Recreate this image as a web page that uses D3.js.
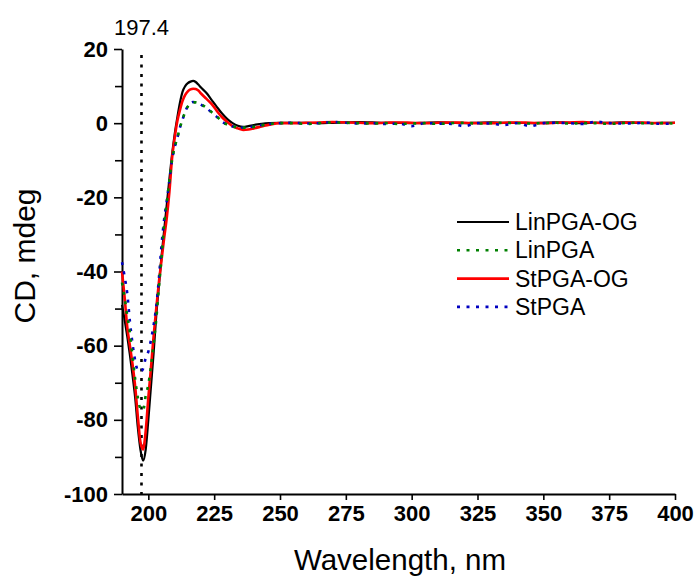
<!DOCTYPE html>
<html>
<head>
<meta charset="utf-8">
<script src="https://cdn.jsdelivr.net/npm/d3@7"></script>
<style>
  body { margin: 0; background: #fff; }
  svg { display: block; font-family: Arial, "Liberation Sans", sans-serif; }
</style>
</head>
<body>
<svg id="chart" width="694" height="577"></svg>
<script>
// wavelengths (nm), dense around the bands, sparse on the flat tail
const wavelengths = [190,191,192,193,194,195,196,197,198,199,200,201,202,203,204,205,206,207,208,209,210,
  211,212,213,214,215,216,217,218,219,220,222,224,226,228,230,232,234,236,238,240,243,246,250,
  255,260,265,270,275,280,285,290,295,300,305,310,315,320,325,330,335,340,345,350,355,360,365,370,375,380,385,390,395,400];

const linPgaOg = [-49,-53,-57.5,-62.5,-68,-74,-82,-88,-91,-88,-80,-71,-62,-52,-44,-36,-29,-22,-15,-8.5,-3,
  1.5,5.5,8.5,10,10.8,11.2,11.4,11.1,10.4,9.6,8.2,6.3,4.4,2.6,1.1,0,-0.7,-1,-0.8,-0.5,-0.2,0,0.1,
  0.1,0.1,0.0,0.1,0.2,0.3,0.2,0.1,0.1,0.0,0.1,0.2,0.1,0.0,0.1,0.2,0.1,0.1,0.0,0.1,0.2,0.1,0.0,0.1,0.1,0.2,0.1,0.0,0.1,0.1];

const linPga = [-43,-47,-52,-56.6,-63,-69,-74,-77,-77.5,-73.5,-70.5,-65.5,-59.5,-53,-44.5,-36.5,-27.5,-21.5,-15.5,-10,-6.5,
  -4,-1.2,1,3.1,4.5,5.3,5.6,5.6,5.4,5.1,4.2,3,1.8,0.4,-0.4,-0.9,-1.1,-1.2,-1.2,-1,-0.6,-0.2,0,
  0.0,-0.2,0.0,0.2,0.1,0.0,-0.1,0.0,-0.2,-0.1,0.0,-0.2,0.0,0.1,-0.1,0.0,0.1,0.0,-0.1,0.0,0.1,-0.1,0.0,0.0,-0.2,0.0,0.1,-0.1,0.0,-0.1];

const stPgaOg = [-40,-47,-55,-60,-65,-71,-79,-86,-88,-83,-74,-66,-57.5,-50,-43,-37,-31,-25.5,-18.5,-9.5,-4,
  0.5,3.5,6,7.6,8.6,9.1,9.3,9.2,8.8,8,6.6,5.2,3.3,1.6,0.3,-0.8,-1.4,-1.8,-1.7,-1.4,-0.9,-0.4,0,
  0.0,0.1,0.2,0.3,0.2,0.1,0.0,0.1,0.2,0.1,0.0,0.1,0.2,0.1,0.0,0.0,0.1,0.2,0.1,0.0,0.1,0.2,0.3,0.1,0.0,0.1,0.2,0.1,0.0,0.1];

const stPga = [-37.5,-41.4,-46,-53.5,-59.5,-64,-66.7,-67,-66.2,-63.3,-61.6,-58.5,-54.5,-49.5,-42,-33,-26,-21,-15.5,-10,-6.5,
  -4,-1.2,1,3.1,4.6,5.4,5.7,5.6,5.4,5,4.1,2.9,1.7,0.4,-0.4,-0.9,-1.1,-1.2,-1.1,-0.9,-0.5,-0.2,0,
  0.1,-0.1,0.0,0.3,0.1,-0.1,0.0,-0.2,-0.1,-0.8,0.0,-0.1,-0.2,-0.8,0.0,-0.1,-0.5,0.0,-0.8,0.0,0.1,0.0,-0.2,0.4,0.0,-0.1,0.0,0.1,-0.2,0.0];

const xTicks = [200,225,250,275,300,325,350,375,400];
const yTicks = [-100,-80,-60,-40,-20,0,20];
const yMinorTicks = [-90,-70,-50,-30,-10,10];
const markerWl = 197.4;

// draw order: black, red, blue, green (green dots sit on top)
const series = [
  { name: "LinPGA-OG", values: linPgaOg, color: "#000000", width: 2.2, dash: null },
  { name: "StPGA-OG", values: stPgaOg, color: "#ff0000", width: 2.6, dash: null },
  { name: "StPGA", values: stPga, color: "#0000c0", width: 2.6, dash: "3,6.5" },
  { name: "LinPGA", values: linPga, color: "#008000", width: 2.6, dash: "3,6.5" }
];
const legendOrder = ["LinPGA-OG", "LinPGA", "StPGA-OG", "StPGA"];

const svg = d3.select('#chart');

const x = d3.scaleLinear().domain([190, 400]).range([122, 675]);
const y = d3.scaleLinear().domain([-100, 20]).range([494, 49]);

// minor y ticks
svg.append('g')
    .attr('transform', 'translate(122,0)')
    .call(d3.axisLeft(y).tickValues(yMinorTicks).tickSize(7).tickFormat(''))
    .call(g => g.select('.domain').remove())
    .call(g => g.selectAll('line').attr('stroke', '#000').attr('stroke-width', 1.6));

const yAxis = svg.append('g')
    .attr('transform', 'translate(122,0)')
    .call(d3.axisLeft(y).tickValues(yTicks).tickSize(8).tickSizeOuter(0).tickPadding(6)
        .tickFormat(d => String(d)));

const xAxis = svg.append('g')
    .attr('transform', 'translate(0,494)')
    .call(d3.axisBottom(x).tickValues(xTicks).tickSize(6).tickSizeOuter(0).tickPadding(5)
        .tickFormat(d => String(d)));

[xAxis, yAxis].forEach(g => {
    g.select('.domain').attr('stroke', '#000').attr('stroke-width', 2);
    g.selectAll('line').attr('stroke', '#000').attr('stroke-width', 1.6);
    g.selectAll('text')
        .attr('fill', '#000')
        .style('font-family', 'Arial, "Liberation Sans", sans-serif')
        .style('font-size', '22px')
        .style('font-weight', 'bold');
});

// 197.4 marker line
svg.append('line')
    .attr('x1', x(markerWl)).attr('x2', x(markerWl))
    .attr('y1', y(18.4)).attr('y2', y(-100))
    .attr('stroke', '#000')
    .attr('stroke-width', 2.6)
    .attr('stroke-dasharray', '3,6.5');

svg.append('text')
    .attr('x', x(markerWl))
    .attr('y', 35)
    .attr('text-anchor', 'middle')
    .style('font-size', '22px')
    .text(markerWl.toFixed(1));

const line = d3.line()
    .x((d, i) => x(wavelengths[i]))
    .y(d => y(d))
    .curve(d3.curveMonotoneX);

series.forEach(s => {
    svg.append('path')
        .datum(s.values)
        .attr('fill', 'none')
        .attr('stroke', s.color)
        .attr('stroke-width', s.width)
        .attr('stroke-dasharray', s.dash)
        .attr('d', line);
});

// legend
const legend = svg.append('g').attr('transform', 'translate(457,222)');
legendOrder.forEach((name, i) => {
    const s = series.find(d => d.name === name);
    const row = legend.append('g').attr('transform', `translate(0,${i * 28.3})`);
    row.append('line')
        .attr('x1', 0).attr('x2', 52)
        .attr('stroke', s.color)
        .attr('stroke-width', s.width)
        .attr('stroke-dasharray', s.dash);
    row.append('text')
        .attr('x', 58)
        .attr('y', 8)
        .style('font-size', '23px')
        .text(name);
});

// axis titles
svg.append('text')
    .attr('x', 400)
    .attr('y', 570)
    .attr('text-anchor', 'middle')
    .style('font-size', '29.5px')
    .text('Wavelength, nm');

svg.append('text')
    .attr('transform', 'translate(35,256) rotate(-90)')
    .attr('text-anchor', 'middle')
    .style('font-size', '30px')
    .text('CD, mdeg');
</script>
</body>
</html>
